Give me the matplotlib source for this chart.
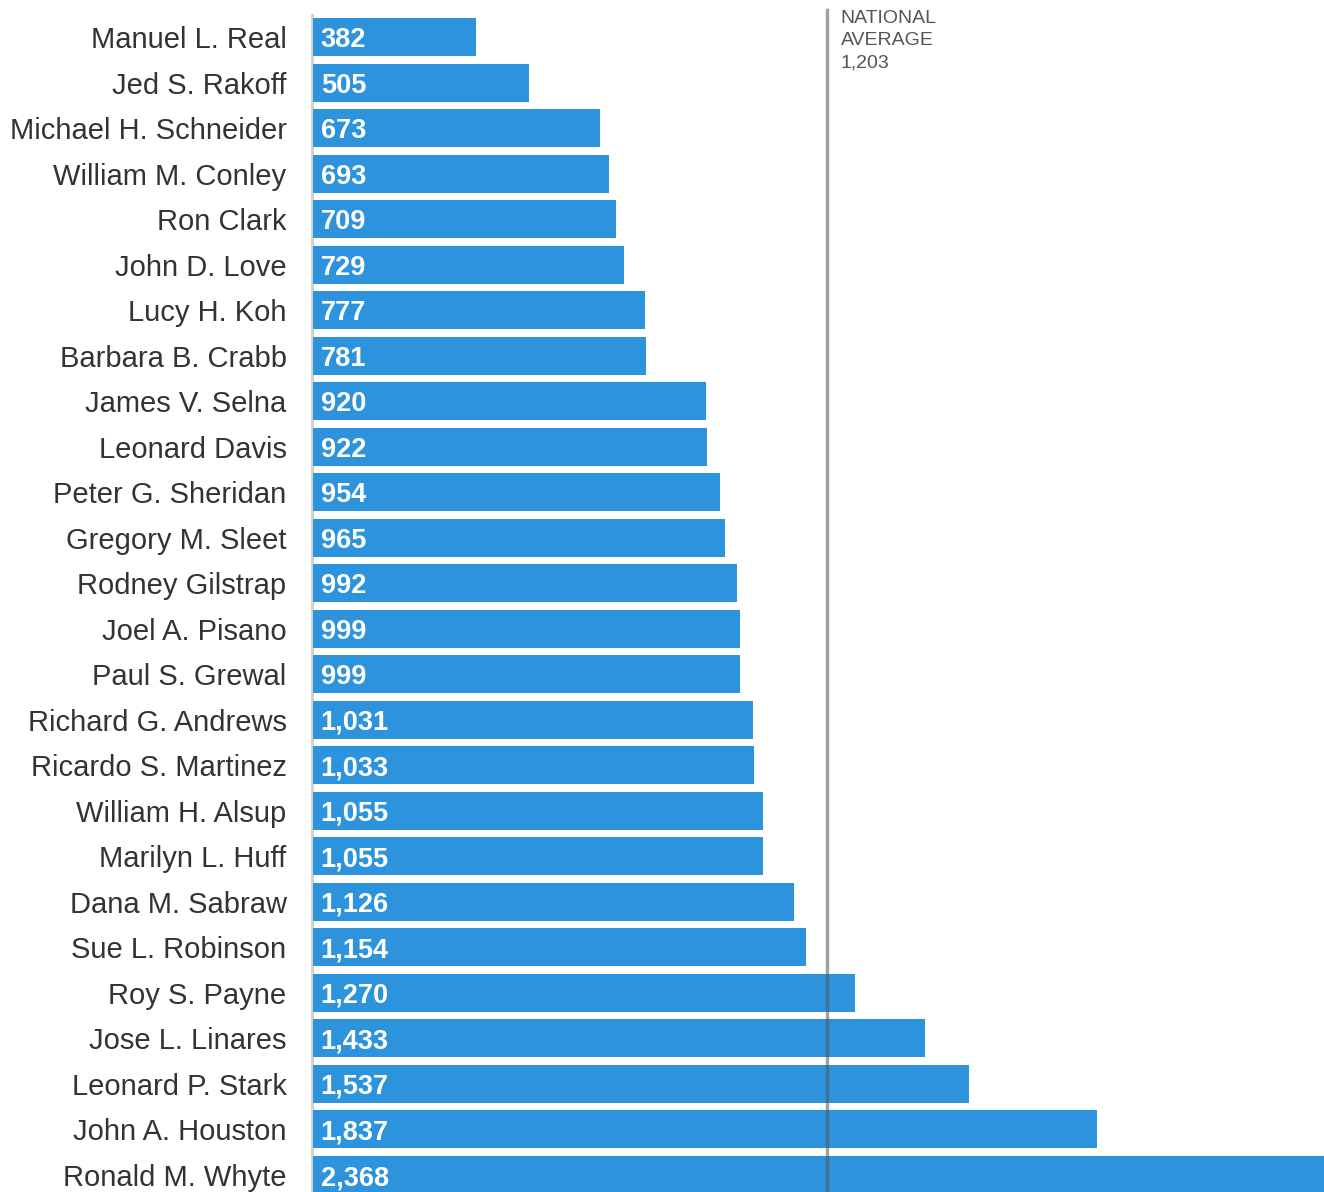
import matplotlib.pyplot as plt
import numpy as np

judges = ['Manuel L. Real', 'Jed S. Rakoff', 'Michael H. Schneider', 'William M. Conley',
          'Ron Clark', 'John D. Love', 'Lucy H. Koh', 'Barbara B. Crabb', 'James V. Selna',
          'Leonard Davis', 'Peter G. Sheridan', 'Gregory M. Sleet', 'Rodney Gilstrap',
          'Joel A. Pisano', 'Paul S. Grewal', 'Richard G. Andrews', 'Ricardo S. Martinez',
          'William H. Alsup', 'Marilyn L. Huff', 'Dana M. Sabraw', 'Sue L. Robinson',
          'Roy S. Payne', 'Jose L. Linares', 'Leonard P. Stark', 'John A. Houston',
          'Ronald M. Whyte']
days = [382, 505, 673, 693, 709, 729, 777, 781, 920, 922, 954, 965, 992, 999, 999,
        1031, 1033, 1055, 1055, 1126, 1154, 1270, 1433, 1537, 1837, 2368]
national_avg = 1203

plt.rcParams['font.family'] = ['Liberation Sans', 'DejaVu Sans']

W, H = 1324, 1192
fig = plt.figure(figsize=(W / 100, H / 100), dpi=100)
left = 313 / W
ax = fig.add_axes([left, 0, 1 - left, 1])

pitch = 45.52
top_center = 37
y = np.arange(len(judges))
ax.barh(y, days, height=0.835, color='#2d93dc', zorder=2)

ax.set_xlim(0, max(days))
ax.set_ylim((H - top_center) / pitch, -top_center / pitch)

ax.set_yticks(y)
ax.set_yticklabels(judges, fontsize=21, color='#333333')
ax.tick_params(axis='y', length=0, pad=19)
ax.set_xticks([])
for s in ax.spines.values():
    s.set_visible(False)

# thin grey baseline on the left
ax.axvline(-3, ymin=0, ymax=1 - 15 / H, color='#d0d0d0', lw=2, clip_on=False, zorder=1)

for yi, v in zip(y, days):
    ax.annotate(f'{v:,}', xy=(0, yi), xytext=(5.5, 0), textcoords='offset points',
                ha='left', va='center_baseline', color='white', fontsize=19.5,
                fontweight='bold', zorder=4)

ax.axvline(national_avg, ymin=0, ymax=1 - 10 / H, color='#555555', alpha=0.55, lw=2.5, zorder=3)
ax.annotate(f'NATIONAL\nAVERAGE\n{national_avg:,}', xy=(national_avg, 1 - 10 / H),
            xycoords=('data', 'axes fraction'), xytext=(10, 0), textcoords='offset points',
            ha='left', va='top', fontsize=14, color='#555555', linespacing=1.4)

fig.savefig('out.png', dpi=100)
